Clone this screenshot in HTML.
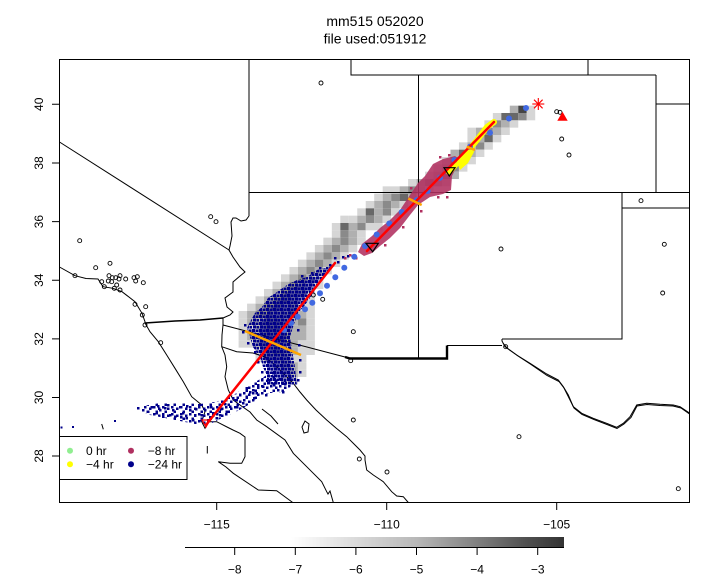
<!DOCTYPE html>
<html><head><meta charset="utf-8"><style>
html,body{margin:0;padding:0;background:#fff}
svg{display:block}
text{font-family:"Liberation Sans",Arial,sans-serif;fill:#000}
.L{fill:#d6d6d6}.M{fill:#b0b0b0}.D{fill:#8a8a8a}.K{fill:#686868}.X{fill:#444}
</style></head><body>
<svg width="720" height="576" viewBox="0 0 720 576" xmlns="http://www.w3.org/2000/svg">
<defs>
<linearGradient id="cb" x1="0" x2="1" y1="0" y2="0">
<stop offset="0" stop-color="#fff"/><stop offset="0.28" stop-color="#fff"/><stop offset="0.36" stop-color="#eee"/><stop offset="0.46" stop-color="#d8d8d8"/><stop offset="0.61" stop-color="#b8b8b8"/><stop offset="0.77" stop-color="#808080"/><stop offset="0.9" stop-color="#505050"/><stop offset="1" stop-color="#333"/>
</linearGradient>
<pattern id="pdense" width="7" height="7" patternUnits="userSpaceOnUse">
<rect x="0" y="0" width="3" height="3" fill="#00008b"/><rect x="3.5" y="0.5" width="3" height="2.5" fill="#00008b"/><rect x="1" y="3.5" width="3" height="3" fill="#00008b"/><rect x="4.5" y="4" width="2.5" height="2.5" fill="#00008b"/>
</pattern>
<pattern id="psparse" width="9" height="7" patternUnits="userSpaceOnUse">
<rect x="0" y="0" width="2.5" height="2.5" fill="#00008b"/><rect x="5" y="1.5" width="2.5" height="2.5" fill="#00008b"/><rect x="2.5" y="4.5" width="2.5" height="2.5" fill="#00008b"/>
</pattern>
</defs>
<rect width="720" height="576" fill="#fff"/>
<text x="375" y="26" font-size="14" text-anchor="middle">mm515 052020</text>
<text x="375" y="43.3" font-size="14" text-anchor="middle">file used:051912</text>

<!-- gray concentration cells -->
<g transform="translate(1.3,3) scale(8.475,7.333)">
<rect x="60" y="14" width="1" height="1" class="M"/><rect x="61" y="14" width="1" height="1" class="X"/><rect x="62" y="14" width="1" height="1" class="L"/>
<rect x="58" y="15" width="1" height="1" class="L"/><rect x="59" y="15" width="2" height="1" class="K"/><rect x="61" y="15" width="1" height="1" class="D"/><rect x="62" y="15" width="1" height="1" class="L"/>
<rect x="57" y="16" width="1" height="1" class="L"/><rect x="58" y="16" width="1" height="1" class="D"/><rect x="59" y="16" width="1" height="1" class="M"/><rect x="60" y="16" width="1" height="1" class="L"/>
<rect x="55" y="17" width="1" height="1" class="L"/><rect x="56" y="17" width="1" height="1" class="M"/><rect x="57" y="17" width="1" height="1" class="D"/><rect x="58" y="17" width="1" height="1" class="M"/><rect x="59" y="17" width="1" height="1" class="L"/>
<rect x="55" y="18" width="1" height="1" class="L"/><rect x="56" y="18" width="1" height="1" class="M"/><rect x="57" y="18" width="1" height="1" class="K"/><rect x="58" y="18" width="1" height="1" class="L"/>
<rect x="54" y="19" width="1" height="1" class="L"/><rect x="55" y="19" width="1" height="1" class="M"/><rect x="56" y="19" width="1" height="1" class="D"/><rect x="57" y="19" width="1" height="1" class="L"/>
<rect x="53" y="20" width="1" height="1" class="M"/><rect x="54" y="20" width="1" height="1" class="K"/><rect x="55" y="20" width="1" height="1" class="M"/><rect x="56" y="20" width="1" height="1" class="L"/>
<rect x="52" y="21" width="1" height="1" class="L"/><rect x="53" y="21" width="1" height="1" class="D"/><rect x="54" y="21" width="1" height="1" class="M"/><rect x="55" y="21" width="1" height="1" class="L"/>
<rect x="51" y="22" width="1" height="1" class="L"/><rect x="52" y="22" width="1" height="1" class="M"/><rect x="53" y="22" width="1" height="1" class="D"/><rect x="54" y="22" width="1" height="1" class="L"/>
<rect x="50" y="23" width="1" height="1" class="L"/><rect x="51" y="23" width="1" height="1" class="M"/><rect x="52" y="23" width="1" height="1" class="D"/><rect x="53" y="23" width="1" height="1" class="M"/>
<rect x="48" y="24" width="1" height="1" class="L"/><rect x="49" y="24" width="1" height="1" class="M"/><rect x="50" y="24" width="1" height="1" class="D"/><rect x="51" y="24" width="1" height="1" class="M"/><rect x="52" y="24" width="1" height="1" class="L"/>
<rect x="45" y="25" width="2" height="1" class="L"/><rect x="47" y="25" width="1" height="1" class="M"/><rect x="48" y="25" width="1" height="1" class="D"/><rect x="49" y="25" width="1" height="1" class="M"/><rect x="50" y="25" width="1" height="1" class="L"/>
<rect x="44" y="26" width="1" height="1" class="L"/><rect x="45" y="26" width="1" height="1" class="M"/><rect x="46" y="26" width="1" height="1" class="D"/><rect x="47" y="26" width="1" height="1" class="K"/><rect x="48" y="26" width="1" height="1" class="M"/>
<rect x="43" y="27" width="1" height="1" class="L"/><rect x="44" y="27" width="1" height="1" class="M"/><rect x="45" y="27" width="1" height="1" class="D"/><rect x="46" y="27" width="1" height="1" class="M"/><rect x="47" y="27" width="1" height="1" class="L"/>
<rect x="42" y="28" width="1" height="1" class="L"/><rect x="43" y="28" width="1" height="1" class="K"/><rect x="44" y="28" width="1" height="1" class="M"/><rect x="45" y="28" width="1" height="1" class="D"/><rect x="46" y="28" width="1" height="1" class="L"/>
<rect x="40" y="29" width="1" height="1" class="L"/><rect x="41" y="29" width="1" height="1" class="L"/><rect x="42" y="29" width="1" height="1" class="M"/><rect x="43" y="29" width="1" height="1" class="D"/><rect x="44" y="29" width="1" height="1" class="M"/><rect x="45" y="29" width="1" height="1" class="L"/>
<rect x="39" y="30" width="1" height="1" class="L"/><rect x="40" y="30" width="1" height="1" class="K"/><rect x="41" y="30" width="1" height="1" class="M"/><rect x="42" y="30" width="1" height="1" class="D"/><rect x="43" y="30" width="2" height="1" class="L"/>
<rect x="39" y="31" width="1" height="1" class="L"/><rect x="40" y="31" width="1" height="1" class="D"/><rect x="41" y="31" width="1" height="1" class="M"/><rect x="42" y="31" width="1" height="1" class="L"/>
<rect x="38" y="32" width="1" height="1" class="L"/><rect x="39" y="32" width="1" height="1" class="M"/><rect x="40" y="32" width="1" height="1" class="D"/><rect x="41" y="32" width="1" height="1" class="M"/><rect x="42" y="32" width="1" height="1" class="L"/>
<rect x="37" y="33" width="1" height="1" class="L"/><rect x="38" y="33" width="1" height="1" class="M"/><rect x="39" y="33" width="1" height="1" class="D"/><rect x="40" y="33" width="1" height="1" class="M"/><rect x="41" y="33" width="1" height="1" class="L"/>
<rect x="36" y="34" width="1" height="1" class="L"/><rect x="37" y="34" width="1" height="1" class="M"/><rect x="38" y="34" width="1" height="1" class="D"/><rect x="39" y="34" width="1" height="1" class="M"/><rect x="40" y="34" width="1" height="1" class="L"/>
<rect x="35" y="35" width="1" height="1" class="L"/><rect x="36" y="35" width="1" height="1" class="M"/><rect x="37" y="35" width="1" height="1" class="D"/><rect x="38" y="35" width="1" height="1" class="M"/><rect x="39" y="35" width="1" height="1" class="L"/>
<rect x="34" y="36" width="1" height="1" class="L"/><rect x="35" y="36" width="1" height="1" class="M"/><rect x="36" y="36" width="1" height="1" class="D"/><rect x="37" y="36" width="1" height="1" class="M"/><rect x="38" y="36" width="1" height="1" class="L"/>
<rect x="33" y="37" width="1" height="1" class="L"/><rect x="34" y="37" width="1" height="1" class="M"/><rect x="35" y="37" width="1" height="1" class="D"/><rect x="36" y="37" width="1" height="1" class="M"/><rect x="37" y="37" width="1" height="1" class="L"/>
<rect x="32" y="38" width="1" height="1" class="L"/><rect x="33" y="38" width="1" height="1" class="M"/><rect x="34" y="38" width="1" height="1" class="D"/><rect x="35" y="38" width="1" height="1" class="M"/><rect x="36" y="38" width="2" height="1" class="L"/>
<rect x="31" y="39" width="1" height="1" class="L"/><rect x="32" y="39" width="1" height="1" class="M"/><rect x="33" y="39" width="1" height="1" class="D"/><rect x="34" y="39" width="2" height="1" class="M"/><rect x="36" y="39" width="1" height="1" class="L"/>
<rect x="30" y="40" width="1" height="1" class="L"/><rect x="31" y="40" width="1" height="1" class="M"/><rect x="32" y="40" width="2" height="1" class="D"/><rect x="34" y="40" width="1" height="1" class="M"/><rect x="35" y="40" width="2" height="1" class="L"/>
<rect x="29" y="41" width="1" height="1" class="L"/><rect x="30" y="41" width="1" height="1" class="M"/><rect x="31" y="41" width="2" height="1" class="D"/><rect x="33" y="41" width="2" height="1" class="M"/><rect x="35" y="41" width="2" height="1" class="L"/>
<rect x="28" y="42" width="1" height="1" class="L"/><rect x="29" y="42" width="1" height="1" class="M"/><rect x="30" y="42" width="2" height="1" class="D"/><rect x="32" y="42" width="2" height="1" class="M"/><rect x="34" y="42" width="1" height="1" class="D"/><rect x="35" y="42" width="1" height="1" class="M"/><rect x="36" y="42" width="1" height="1" class="L"/>
<rect x="28" y="43" width="1" height="1" class="L"/><rect x="29" y="43" width="2" height="1" class="M"/><rect x="31" y="43" width="2" height="1" class="D"/><rect x="33" y="43" width="2" height="1" class="M"/><rect x="35" y="43" width="1" height="1" class="D"/><rect x="36" y="43" width="1" height="1" class="L"/>
<rect x="28" y="44" width="2" height="1" class="L"/><rect x="30" y="44" width="1" height="1" class="M"/><rect x="31" y="44" width="2" height="1" class="D"/><rect x="33" y="44" width="3" height="1" class="M"/><rect x="36" y="44" width="1" height="1" class="L"/>
<rect x="28" y="45" width="1" height="1" class="L"/><rect x="29" y="45" width="2" height="1" class="M"/><rect x="31" y="45" width="3" height="1" class="D"/><rect x="34" y="45" width="2" height="1" class="M"/><rect x="36" y="45" width="1" height="1" class="L"/>
<rect x="28" y="46" width="2" height="1" class="L"/><rect x="30" y="46" width="1" height="1" class="M"/><rect x="31" y="46" width="2" height="1" class="D"/><rect x="33" y="46" width="2" height="1" class="M"/><rect x="35" y="46" width="2" height="1" class="L"/>
<rect x="30" y="47" width="1" height="1" class="L"/><rect x="31" y="47" width="1" height="1" class="M"/><rect x="32" y="47" width="1" height="1" class="D"/><rect x="33" y="47" width="2" height="1" class="M"/><rect x="35" y="47" width="2" height="1" class="L"/>
<rect x="30" y="48" width="1" height="1" class="L"/><rect x="31" y="48" width="3" height="1" class="M"/><rect x="34" y="48" width="2" height="1" class="L"/>
<rect x="32" y="49" width="1" height="1" class="L"/><rect x="33" y="49" width="2" height="1" class="M"/><rect x="35" y="49" width="1" height="1" class="L"/>
<rect x="33" y="50" width="1" height="1" class="L"/><rect x="34" y="50" width="1" height="1" class="M"/><rect x="35" y="50" width="1" height="1" class="L"/>
<rect x="33" y="51" width="2" height="1" class="L"/>
</g>

<!-- map lines -->
<g fill="none" stroke="#000" stroke-width="1">
<path d="M249,59.5V216"/>
<path d="M59.5,142L229,250"/>
<polyline points="249,216 246,220 241,221 236,218 233,218 231,222 232,236 230,246 229,250 233,257 240,267 245,272 240,276 233,282 233,292 225,298 227,307 233,312 230,315 223,318 223,325"/>
<polyline points="145,323 175,321 200,320 223,318" stroke-width="1.4"/>
<polyline points="223,325 345,357"/>
<polyline points="345,357 350,358.5 447,358.5 447,345.5" stroke-width="2.4"/>
<polyline points="447,345.5 502,345.5"/>
<path d="M418.5,75V358"/>
<path d="M351,59.5V75H656"/>
<path d="M588,59.5V75"/>
<path d="M656,75V192.5"/>
<path d="M656,104H689.5"/>
<path d="M249,192.5H689.5"/>
<path d="M622,192.5V339H502"/>
<path d="M622,208H689.5"/>
<polyline points="502,339 502,341 505,346.7 516.7,355 530,363.3 546.7,374 558.3,380 563.3,386.7 568.3,395 573.3,406.7 581.7,413.3 593.3,418.3 606.7,423.3 616.7,427.3 623.3,423.3 630,416.7 636.7,405 646.7,403.3 660,404.3 673.3,405 680,406.7 689.5,413"/>
<polyline points="503,343 507,348 518,356 531,364.5 547,375.5 559,381.5 564,388 568,396 574,408 582,414.5 594,419.5 607,424.5 617,428.5 624,424 631,417.5 637,406 647,404.5 660,405.5 673,406 681,408 689.5,414"/>
<polyline points="59.5,267 75,275.7 86,278.5 98,279 103,286.7 113,288.3 122,291.7 135,301.7 142,313.3 145,321.7 145,323"/>
<polyline points="145,323 150,331.7 158.3,341.7 166.7,355 175,368.3 183.3,381.7 191.7,396.7 201.7,405 205,411.7 201.7,421.7 205,428.3 208.3,421.7 216.7,421.7 227,427 233,430 240,433.3 245,437 245,456.7 241.7,463.3 230,463.3 218.3,461.7 226,467 233.3,473.3 258.3,490 276.7,490.7 292.7,502.5"/>
<polyline points="223,325 222,335 221.7,346.7 225,355 226.7,366.7 225,376.7 228.3,390 233.3,400 240,405 250,412 256.7,420 266.7,426.7 285,440 293.3,453.3 306.7,466.7 321.7,481.7 326.7,491.7 328,494 330,491 333.3,502.5"/>
<polyline points="221.7,346.7 236.7,351.7 253,353 265,357 275,365 285,375 293.3,383.3 300,392 306.7,400 316,410 326.7,420 336,428 346.7,436.7 353,443 360,450 365,456 365,460 366.7,470 373.3,475 383.3,481.7 391.7,491.7 396.7,496 403.3,496.7 408.3,502.5"/>
<polyline points="262,409 271,416 278,424"/>
<path d="M305,421L309,424L308,432L304,433L302,427Z"/>
<path d="M101.7,424L103.3,429.3"/>
<path d="M207.3,446V453.5"/>
</g>

<!-- cities -->
<g fill="none" stroke="#000" stroke-width="0.9">
<circle cx="321" cy="83" r="2"/><circle cx="210.7" cy="216.7" r="2"/><circle cx="216" cy="221.7" r="2"/><circle cx="79.7" cy="240.7" r="2"/>
<circle cx="95.7" cy="267.7" r="2"/><circle cx="110" cy="263.3" r="2"/><circle cx="109" cy="275.7" r="2"/><circle cx="112.3" cy="277.7" r="2"/><circle cx="115.7" cy="277.7" r="2"/><circle cx="120" cy="275.7" r="2"/><circle cx="119" cy="279" r="2"/><circle cx="125.7" cy="279" r="2"/><circle cx="134" cy="277.7" r="2"/><circle cx="137.3" cy="276.7" r="2"/><circle cx="135.7" cy="281" r="2"/><circle cx="143.3" cy="282.7" r="2"/><circle cx="108.3" cy="281" r="2"/><circle cx="111.7" cy="281.7" r="2"/><circle cx="116.7" cy="285" r="2"/><circle cx="114.3" cy="288.3" r="2"/><circle cx="120" cy="290" r="2"/><circle cx="101.7" cy="281.7" r="2"/><circle cx="104.3" cy="286.7" r="2"/><circle cx="135" cy="304.3" r="2"/><circle cx="145.7" cy="306.7" r="2"/><circle cx="142.3" cy="315" r="2"/><circle cx="145" cy="325" r="2"/><circle cx="75" cy="275.7" r="2"/><circle cx="160.7" cy="342.7" r="2"/>
<circle cx="353.3" cy="331.7" r="2"/><circle cx="350.7" cy="360.7" r="2"/><circle cx="353.3" cy="420" r="2"/><circle cx="359.3" cy="459" r="2"/><circle cx="322.7" cy="299.3" r="2"/><circle cx="313.3" cy="295" r="2"/>
<circle cx="556.7" cy="111.7" r="2"/><circle cx="560" cy="112.3" r="2"/><circle cx="561.7" cy="139" r="2"/><circle cx="569" cy="155" r="2"/><circle cx="641" cy="200.7" r="2"/><circle cx="664.3" cy="244.3" r="2"/><circle cx="501" cy="249" r="2"/><circle cx="662.7" cy="293" r="2"/><circle cx="505.7" cy="346.7" r="2"/><circle cx="519" cy="436.7" r="2"/><circle cx="387" cy="472" r="2"/><circle cx="678.3" cy="488.7" r="2"/>
</g>

<!-- -24 hr navy cloud -->
<polygon fill="url(#pdense)" points="337,260 330,267 317,270 307,277 297,280 287,285 277,292 268,298 262,307 255,313 250,322 247,328 250,337 253,347 260,357 263,367 267,377 267,385 297,385 296,378 295,367 292,350 290,337 293,327 298,313 305,305 312,295 318,285 327,273"/>
<polygon fill="#00008b" fill-opacity="0.45" points="320,275 305,282 290,290 278,300 268,312 260,325 258,340 263,355 270,370 280,380 290,375 288,355 286,337 290,320 298,305 310,290"/>
<polygon fill="url(#psparse)" points="143,406 160,403 180,403 200,404 215,402 230,397 240,391 250,385 262,378 270,373 285,380 292,386 282,392 270,393 258,399 245,407 232,414 220,419 208,425 195,424 180,421 165,418 150,415 143,412"/>
<g fill="#00008b">
<path d="M142,409h2.5v2.5h-2.5zM150.5,406h2.5v2.5h-2.5zM159,409h2.5v2.5h-2.5zM164,407h2.5v2.5h-2.5zM172,409h2.5v2.5h-2.5zM179,406h2.5v2.5h-2.5zM182,412h2.5v2.5h-2.5zM189,409h2.5v2.5h-2.5zM162,415.5h2.5v2.5h-2.5zM174,415.5h2.5v2.5h-2.5zM192,419h2.5v2.5h-2.5zM200.5,414h2.5v2.5h-2.5zM212,412h2.5v2.5h-2.5zM219,414h2.5v2.5h-2.5zM229,405.5h2.5v2.5h-2.5zM235.5,399h2.5v2.5h-2.5zM245.5,395.5h2.5v2.5h-2.5zM255.5,392h2.5v2.5h-2.5zM262,385.5h2.5v2.5h-2.5zM269,379h2.5v2.5h-2.5zM272,372h2.5v2.5h-2.5zM245.5,387h2.5v2.5h-2.5zM252,389h2.5v2.5h-2.5zM242,402h2.5v2.5h-2.5zM225.5,410.5h2.5v2.5h-2.5zM215.5,417h2.5v2.5h-2.5zM207,419h2.5v2.5h-2.5zM200.5,419h2.5v2.5h-2.5zM185.5,417h2.5v2.5h-2.5zM169,414h2.5v2.5h-2.5zM155.5,412h2.5v2.5h-2.5zM147,410.5h2.5v2.5h-2.5zM60.5,426.5h2v2h-2zM72,426h2v2h-2zM114,420h2v2h-2zM137,407h2.5v2.5h-2.5zM167,404h2.5v2.5h-2.5zM195,408h2.5v2.5h-2.5zM204,409h2.5v2.5h-2.5zM209,416h2.5v2.5h-2.5zM224,403h2.5v2.5h-2.5zM232,397h2.5v2.5h-2.5zM239,394h2.5v2.5h-2.5zM249,391h2.5v2.5h-2.5zM257,384h2.5v2.5h-2.5zM261,379h2.5v2.5h-2.5zM265,394h2.5v2.5h-2.5zM277,389h2.5v2.5h-2.5zM284,383h2.5v2.5h-2.5zM289,377h2.5v2.5h-2.5zM282,391h2.5v2.5h-2.5zM334,257h2.5v2.5h-2.5zM329,264h2.5v2.5h-2.5zM337,261h2.5v2.5h-2.5zM326,267h2.5v2.5h-2.5zM342,256h2.5v2.5h-2.5zM347,255h2.5v2.5h-2.5zM319,267h2.5v2.5h-2.5zM311,272h2.5v2.5h-2.5zM301,275h2.5v2.5h-2.5zM299,281h2.5v2.5h-2.5zM244,324h2.5v2.5h-2.5zM242,331h2.5v2.5h-2.5zM247,342h2.5v2.5h-2.5zM254,351h2.5v2.5h-2.5zM257,361h2.5v2.5h-2.5zM261,371h2.5v2.5h-2.5zM297,329h2.5v2.5h-2.5zM298,344h2.5v2.5h-2.5zM299,359h2.5v2.5h-2.5zM299,371h2.5v2.5h-2.5zM297,379h2.5v2.5h-2.5zM186,405h2.5v2.5h-2.5zM198,404h2.5v2.5h-2.5zM210,406h2.5v2.5h-2.5zM220,408h2.5v2.5h-2.5zM194,414h2.5v2.5h-2.5zM180,416h2.5v2.5h-2.5zM157,405h2.5v2.5h-2.5zM236,406h2.5v2.5h-2.5zM253,397h2.5v2.5h-2.5zM273,384h2.5v2.5h-2.5z"/>
</g>

<!-- -8 hr maroon -->
<g fill="#b03060">
<polygon fill-opacity="0.88" points="358,252 362,244 372,236 380,228 390,220 400,210 410,195 418,183 425,176 433,164 443,159 455,156 460,160 456,168 452,176 451,190 443,194 430,197 418,205 410,215 400,228 390,238 380,246 372,253 364,256"/>
<path d="M344,257h2.5v2.5h-2.5zM349,254h2.5v2.5h-2.5zM355,257h2.5v2.5h-2.5zM402,226h2.5v2.5h-2.5zM384,244h2.5v2.5h-2.5zM437,196h2.5v2.5h-2.5zM446,196h2.5v2.5h-2.5zM420,210h2.5v2.5h-2.5zM410,187h2.5v2.5h-2.5zM439,156h2.5v2.5h-2.5zM448,154h2.5v2.5h-2.5z"/>
</g>

<!-- -4 hr yellow -->
<polyline points="449,172 457,163 467,152 477,140 487,127 494,122" fill="none" stroke="#ffff00" stroke-width="6" stroke-linecap="round"/>
<polygon points="458,165 466,150 472,146 474,152 468,163 460,170" fill="#ffff00"/>

<!-- trajectory dots -->
<g fill="#4169e1">
<circle cx="526" cy="108" r="3"/><circle cx="509" cy="118.5" r="3"/><circle cx="490" cy="132.7" r="3"/><circle cx="470" cy="146.7" r="3"/><circle cx="454.3" cy="160" r="3"/><circle cx="440" cy="177.7" r="3"/><circle cx="427.7" cy="191" r="3"/><circle cx="416.7" cy="200" r="3"/><circle cx="401.7" cy="212" r="3"/><circle cx="389.3" cy="223.5" r="3"/><circle cx="376.7" cy="234.5" r="3"/><circle cx="365" cy="246" r="3"/><circle cx="354.3" cy="256.7" r="3"/><circle cx="344.3" cy="267.7" r="3"/><circle cx="335.3" cy="277.3" r="3"/><circle cx="327" cy="285.7" r="3"/><circle cx="320" cy="293.3" r="3"/><circle cx="312.3" cy="302.7" r="3"/><circle cx="305" cy="309.3" r="3"/><circle cx="297.7" cy="316.7" r="3"/><circle cx="291" cy="323.3" r="3"/><circle cx="284" cy="330" r="3"/>
</g>

<g stroke="#ff0000" stroke-width="2.5" fill="none" stroke-linecap="round">
<line x1="206" y1="425" x2="335" y2="263"/>
<line x1="367" y1="251" x2="494" y2="122"/>
</g>
<g stroke="#ffa500" stroke-width="2.5" fill="none">
<line x1="245" y1="331" x2="301" y2="355"/>
<line x1="408.3" y1="198.5" x2="421.7" y2="205"/>
<line x1="466.7" y1="146.7" x2="475" y2="150"/>
</g>
<g fill="none" stroke="#000" stroke-width="1.2">
<polygon points="444,167.7 455,167.7 449.3,176"/>
<polygon points="366,243.3 378.3,243.3 372.7,251.7"/>
<polygon points="202,420 210,420 206,427" stroke="#ff0000"/>
</g>
<g stroke="#ff0000" stroke-width="1.1">
<line x1="532.3" y1="104" x2="544.3" y2="104"/><line x1="538.3" y1="98" x2="538.3" y2="110"/><line x1="534" y1="99.7" x2="542.6" y2="108.3"/><line x1="534" y1="108.3" x2="542.6" y2="99.7"/>
</g>
<polygon points="562.5,111.7 557.3,120.7 567.7,120.7" fill="#ff0000"/>

<!-- legend -->
<rect x="59.5" y="436.5" width="127.5" height="43" fill="#fff" stroke="#000" stroke-width="1"/>
<circle cx="70" cy="450.7" r="3" fill="#90ee90"/>
<circle cx="70" cy="464.3" r="3" fill="#ffff00"/>
<circle cx="131" cy="450.7" r="3" fill="#b03060"/>
<circle cx="131" cy="464.3" r="3" fill="#00008b"/>
<text x="86" y="455" font-size="12">0 hr</text>
<text x="86" y="468.7" font-size="12">−4 hr</text>
<text x="147.7" y="455" font-size="12">−8 hr</text>
<text x="147.7" y="468.7" font-size="12">−24 hr</text>

<!-- frame & axes -->
<rect x="59.5" y="59.5" width="630" height="443" fill="none" stroke="#000" stroke-width="1"/>
<g stroke="#000" stroke-width="1">
<path d="M216.7,503V510M386.7,503V510M556.7,503V510"/>
<path d="M52,104.3H59.5M52,163H59.5M52,221.6H59.5M52,280.2H59.5M52,338.9H59.5M52,397.5H59.5M52,456H59.5"/>
</g>
<g font-size="12" text-anchor="middle">
<text x="216.7" y="528.3">−115</text>
<text x="386.7" y="528.3">−110</text>
<text x="556.7" y="528.3">−105</text>
<text transform="translate(43,104.3) rotate(-90)">40</text>
<text transform="translate(43,163) rotate(-90)">38</text>
<text transform="translate(43,221.6) rotate(-90)">36</text>
<text transform="translate(43,280.2) rotate(-90)">34</text>
<text transform="translate(43,338.9) rotate(-90)">32</text>
<text transform="translate(43,397.5) rotate(-90)">30</text>
<text transform="translate(43,456) rotate(-90)">28</text>
</g>

<!-- colorbar -->
<rect x="185" y="537" width="379" height="10" fill="url(#cb)"/>
<g stroke="#000" stroke-width="1">
<path d="M185,547.5H564"/>
<path d="M234.7,547.5V555M295.3,547.5V555M355.9,547.5V555M416.5,547.5V555M477.1,547.5V555M537.7,547.5V555"/>
</g>
<g font-size="12" text-anchor="middle">
<text x="234.7" y="573.5">−8</text>
<text x="295.3" y="573.5">−7</text>
<text x="355.9" y="573.5">−6</text>
<text x="416.5" y="573.5">−5</text>
<text x="477.1" y="573.5">−4</text>
<text x="537.7" y="573.5">−3</text>
</g>
</svg>
</body></html>
